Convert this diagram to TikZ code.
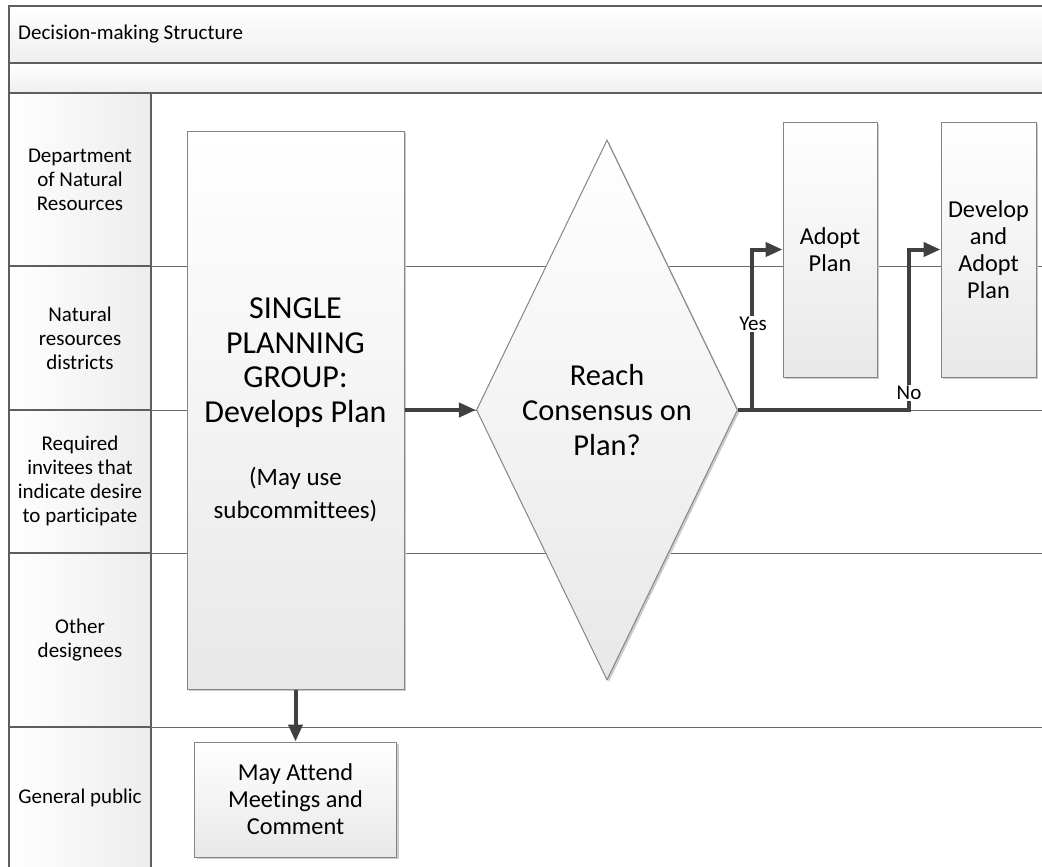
\documentclass[tikz,border=0pt]{standalone}
\usepackage{fontspec}
\setmainfont{Carlito}[Ligatures=NoCommon]
\usepackage{tikz}
\usetikzlibrary{arrows.meta,shapes.geometric,shadows}

\definecolor{framegray}{HTML}{5E5E5E}
\definecolor{linegray}{HTML}{6A6A6A}
\definecolor{boxgray}{HTML}{858585}
\definecolor{shadegray}{HTML}{E8E8E8}
\definecolor{flowgray}{HTML}{404040}

\tikzset{
  band/.style={draw=framegray, line width=1.5pt, top color=white, bottom color=shadegray!70},
  cell/.style={draw=framegray, line width=1.5pt, left color=white, right color=shadegray!80},
  lanelabel/.style={align=center, inner sep=0pt, font=\fontsize{21}{24}\selectfont},
  task/.style={draw=boxgray, line width=1pt, top color=white, bottom color=shadegray,
    drop shadow={shadow xshift=2pt, shadow yshift=-2pt, fill=black!20, opacity=1},
    align=center, inner sep=0pt},
  decision/.style={task, shape=diamond},
  flow/.style={draw=flowgray, line width=4pt, -{Triangle[length=17pt,width=14pt]}},
  tag/.style={fill=white, inner sep=1pt, font=\fontsize{21}{24}\selectfont},
}

\begin{document}
\begin{tikzpicture}[x=1pt, y=-1pt]
\useasboundingbox (0,0) rectangle (1042,867);
\clip (0,0) rectangle (1042,867);
\draw [band] (9,6) rectangle (1060,63);
\draw [band] (9,63) rectangle (1060,93);
\node [lanelabel, anchor=west] (title) at (18,34) {Decision-making Structure};
\foreach \ya/\yb in {93/266, 266/410, 410/553, 553/727, 727/890}
  \draw [cell] (9,\ya) rectangle (151,\yb);
\foreach \y in {266,410,553,727}
  \draw [linegray, line width=1pt] (151,\y) -- (1060,\y);
\node [lanelabel] (dnr) at (80,180) {Department\\of Natural\\Resources};
\node [lanelabel] (districts) at (80,338) {Natural\\resources\\districts};
\node [lanelabel] (invitees) at (80,481) {Required\\invitees that\\indicate desire\\to participate};
\node [lanelabel] (designees) at (80,640) {Other\\designees};
\node [lanelabel] (public) at (80,798) {General public};

\node [task, align=flush center, minimum width=217pt, minimum height=558pt, text width=205pt,
  font=\fontsize{32}{34.5}\selectfont] (plan) at (295.5,410)
  {SINGLE\\PLANNING\\GROUP:\\Develops Plan\par\vspace{30pt}
   {\fontsize{25}{33}\selectfont (May use\\subcommittees)\par}};
\node [decision, minimum width=260pt, minimum height=540pt,
  font=\fontsize{30.4}{35}\selectfont] (consensus) at (607,410) {Reach\\Consensus on\\Plan?};
\node [task, minimum width=94pt, minimum height=255pt,
  font=\fontsize{24.3}{27}\selectfont] (adopt) at (830,249.5) {Adopt\\Plan};
\node [task, minimum width=95pt, minimum height=255pt,
  font=\fontsize{24.3}{27}\selectfont] (develop) at (988.5,249.5) {Develop\\and\\Adopt\\Plan};
\node [task, minimum width=202pt, minimum height=115pt,
  font=\fontsize{24.3}{27}\selectfont] (attend) at (295.5,799.5) {May Attend\\Meetings and\\Comment};

\coordinate (yesfork) at (752,410);
\coordinate (nofork) at (909,410);
\draw [flow] (plan.east) -- (consensus.west);
\draw [flow] (plan.south) -- (attend.north);
\draw [flow] (consensus.east) -- (yesfork) |- (adopt.west);
\draw [flow] (yesfork) -- (nofork) |- (develop.west);
\node [tag] (yes) at (753,324) {Yes};
\node [tag] (no) at (909,393) {No};
\end{tikzpicture}
\end{document}
